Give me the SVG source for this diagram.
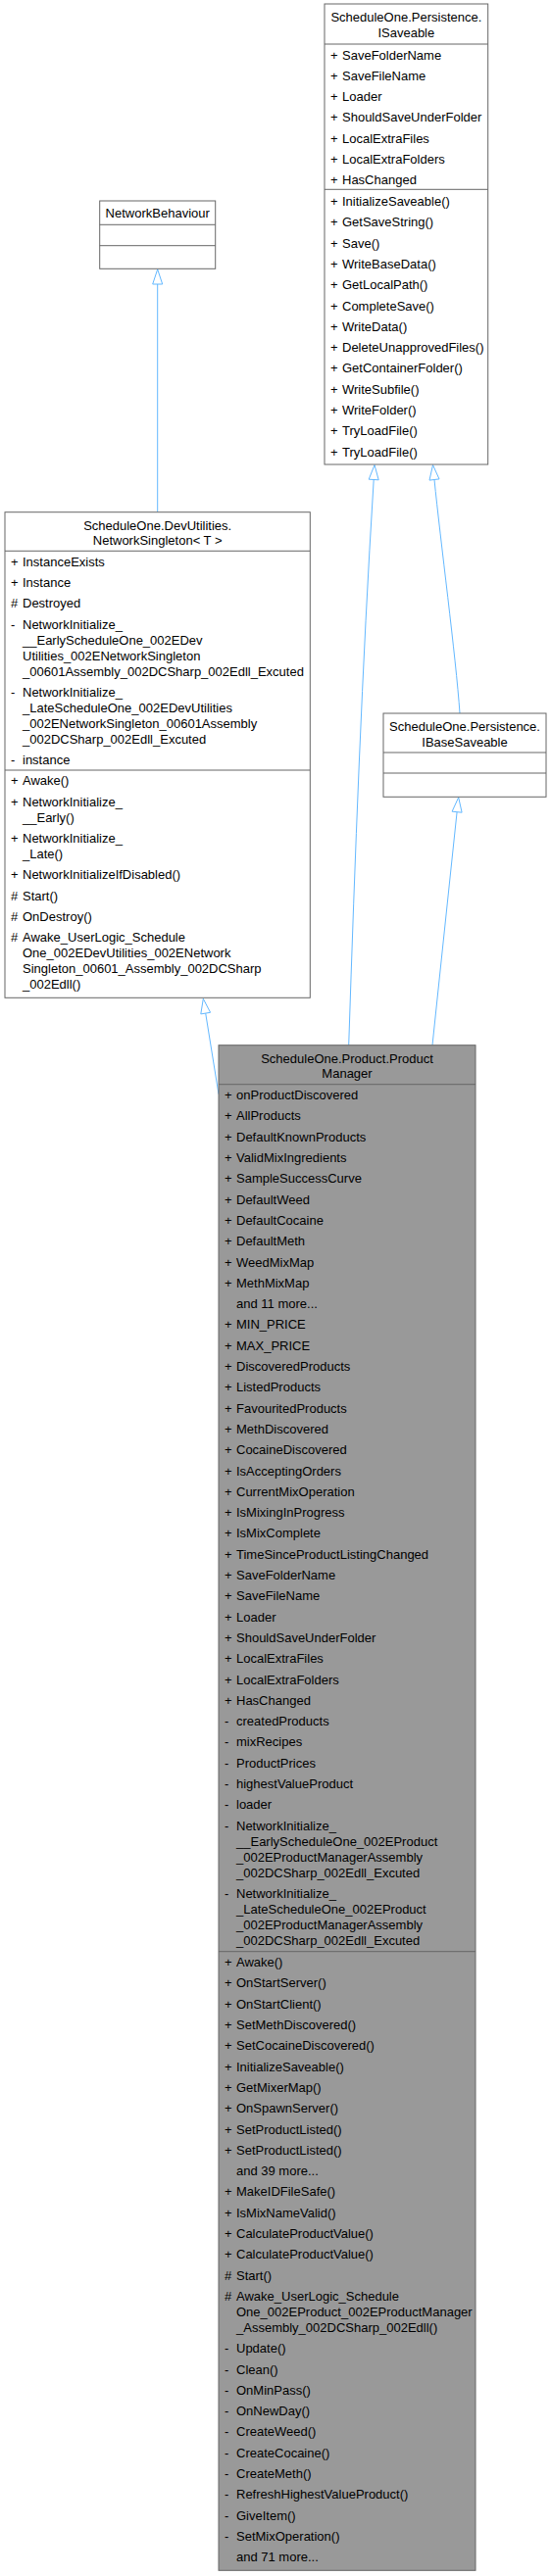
<svg xmlns="http://www.w3.org/2000/svg" width="562" height="2629" viewBox="0 0 562 2629">
<style>
text{font-family:"Liberation Sans",Arial,Helvetica,sans-serif;font-size:13px;fill:#000}
.c{text-anchor:middle}
.box{fill:#fff;stroke:#666;stroke-width:1}
.main{fill:#999;stroke:#666;stroke-width:1}
.sep{stroke:#666;stroke-width:1}
.edge{fill:none;stroke:#63B8FF;stroke-width:1}
.head{fill:#fff;stroke:#63B8FF;stroke-width:1}
</style>
<rect width="562" height="2629" fill="#fff"/>
<g id="connectors">
<path class="edge" d="M160.7,522.7 L160.7,290"/>
<polygon class="head" points="160.7,274.8 165.7,290 155.7,290"/>
<path class="edge" d="M223,1116.7 L209.7,1034.1"/>
<polygon class="head" points="207.3,1019.3 214.6,1033.3 204.8,1034.9"/>
<path class="edge" d="M355.7,1066.7 C362,876 369.3,680 381.2,489.5"/>
<polygon class="head" points="382,474.5 386.2,489.8 376.2,489.2"/>
<path class="edge" d="M469,728 C465,670 449,550 443,489.5"/>
<polygon class="head" points="441.5,474.5 448,488.9 438,490.1"/>
<path class="edge" d="M441,1066.7 L466.1,828.7"/>
<polygon class="head" points="467.7,813.8 471.1,829.2 461.1,828.2"/>
</g>
<g id="ISaveable" transform="translate(331,4)">
<rect class="box" x="0" y="0" width="166.7" height="470"/>
<line class="sep" x1="0" y1="41" x2="166.7" y2="41"/>
<line class="sep" x1="0" y1="189.3" x2="166.7" y2="189.3"/>
<text class="c" x="83.35" y="18">ScheduleOne.Persistence.</text>
<text class="c" x="83.35" y="33.5">ISaveable</text>
<text y="56.5"><tspan x="6">+ </tspan><tspan x="18">SaveFolderName</tspan></text>
<text y="77.8"><tspan x="6">+ </tspan><tspan x="18">SaveFileName</tspan></text>
<text y="99.1"><tspan x="6">+ </tspan><tspan x="18">Loader</tspan></text>
<text y="120.4"><tspan x="6">+ </tspan><tspan x="18">ShouldSaveUnderFolder</tspan></text>
<text y="141.7"><tspan x="6">+ </tspan><tspan x="18">LocalExtraFiles</tspan></text>
<text y="163"><tspan x="6">+ </tspan><tspan x="18">LocalExtraFolders</tspan></text>
<text y="184.3"><tspan x="6">+ </tspan><tspan x="18">HasChanged</tspan></text>
<text y="206"><tspan x="6">+ </tspan><tspan x="18">InitializeSaveable()</tspan></text>
<text y="227.3"><tspan x="6">+ </tspan><tspan x="18">GetSaveString()</tspan></text>
<text y="248.6"><tspan x="6">+ </tspan><tspan x="18">Save()</tspan></text>
<text y="269.9"><tspan x="6">+ </tspan><tspan x="18">WriteBaseData()</tspan></text>
<text y="291.2"><tspan x="6">+ </tspan><tspan x="18">GetLocalPath()</tspan></text>
<text y="312.5"><tspan x="6">+ </tspan><tspan x="18">CompleteSave()</tspan></text>
<text y="333.8"><tspan x="6">+ </tspan><tspan x="18">WriteData()</tspan></text>
<text y="355.1"><tspan x="6">+ </tspan><tspan x="18">DeleteUnapprovedFiles()</tspan></text>
<text y="376.4"><tspan x="6">+ </tspan><tspan x="18">GetContainerFolder()</tspan></text>
<text y="397.7"><tspan x="6">+ </tspan><tspan x="18">WriteSubfile()</tspan></text>
<text y="419"><tspan x="6">+ </tspan><tspan x="18">WriteFolder()</tspan></text>
<text y="440.3"><tspan x="6">+ </tspan><tspan x="18">TryLoadFile()</tspan></text>
<text y="461.6"><tspan x="6">+ </tspan><tspan x="18">TryLoadFile()</tspan></text>
</g>
<g id="NetworkBehaviour" transform="translate(101.7,205)">
<rect class="box" x="0" y="0" width="118" height="69.3"/>
<line class="sep" x1="0" y1="24.3" x2="118" y2="24.3"/>
<line class="sep" x1="0" y1="45.7" x2="118" y2="45.7"/>
<text class="c" x="59" y="17">NetworkBehaviour</text>
</g>
<g id="IBaseSaveable" transform="translate(391,728)">
<rect class="box" x="0" y="0" width="166" height="85.3"/>
<line class="sep" x1="0" y1="40" x2="166" y2="40"/>
<line class="sep" x1="0" y1="61" x2="166" y2="61"/>
<text class="c" x="83" y="18">ScheduleOne.Persistence.</text>
<text class="c" x="83" y="33.5">IBaseSaveable</text>
</g>
<g id="NetworkSingleton" transform="translate(5,522.7)">
<rect class="box" x="0" y="0" width="311.3" height="495.6"/>
<line class="sep" x1="0" y1="39.6" x2="311.3" y2="39.6"/>
<line class="sep" x1="0" y1="263.3" x2="311.3" y2="263.3"/>
<text class="c" x="155.65" y="18">ScheduleOne.DevUtilities.</text>
<text class="c" x="155.65" y="33.5">NetworkSingleton&lt; T &gt;</text>
<text y="55.1"><tspan x="6">+ </tspan><tspan x="18">InstanceExists</tspan></text>
<text y="76.4"><tspan x="6">+ </tspan><tspan x="18">Instance</tspan></text>
<text y="97.7"><tspan x="6"># </tspan><tspan x="18">Destroyed</tspan></text>
<text y="119"><tspan x="6">- </tspan><tspan x="18">NetworkInitialize_</tspan></text>
<text x="18" y="135">__EarlyScheduleOne_002EDev</text>
<text x="18" y="151">Utilities_002ENetworkSingleton</text>
<text x="18" y="167">_00601Assembly_002DCSharp_002Edll_Excuted</text>
<text y="188.3"><tspan x="6">- </tspan><tspan x="18">NetworkInitialize_</tspan></text>
<text x="18" y="204.3">_LateScheduleOne_002EDevUtilities</text>
<text x="18" y="220.3">_002ENetworkSingleton_00601Assembly</text>
<text x="18" y="236.3">_002DCSharp_002Edll_Excuted</text>
<text y="257.6"><tspan x="6">- </tspan><tspan x="18">instance</tspan></text>
<text y="278.8"><tspan x="6">+ </tspan><tspan x="18">Awake()</tspan></text>
<text y="300.1"><tspan x="6">+ </tspan><tspan x="18">NetworkInitialize_</tspan></text>
<text x="18" y="316.1">__Early()</text>
<text y="337.4"><tspan x="6">+ </tspan><tspan x="18">NetworkInitialize_</tspan></text>
<text x="18" y="353.4">_Late()</text>
<text y="374.7"><tspan x="6">+ </tspan><tspan x="18">NetworkInitializeIfDisabled()</tspan></text>
<text y="396"><tspan x="6"># </tspan><tspan x="18">Start()</tspan></text>
<text y="417.3"><tspan x="6"># </tspan><tspan x="18">OnDestroy()</tspan></text>
<text y="438.6"><tspan x="6"># </tspan><tspan x="18">Awake_UserLogic_Schedule</tspan></text>
<text x="18" y="454.6">One_002EDevUtilities_002ENetwork</text>
<text x="18" y="470.6">Singleton_00601_Assembly_002DCSharp</text>
<text x="18" y="486.6">_002Edll()</text>
</g>
<g id="ProductManager" transform="translate(223,1066.7)">
<rect class="main" x="0" y="0" width="262" height="1556.6"/>
<line class="sep" x1="0" y1="40" x2="262" y2="40"/>
<line class="sep" x1="0" y1="925" x2="262" y2="925"/>
<text class="c" x="131" y="18">ScheduleOne.Product.Product</text>
<text class="c" x="131" y="33.5">Manager</text>
<text y="55.5"><tspan x="6">+ </tspan><tspan x="18">onProductDiscovered</tspan></text>
<text y="76.8"><tspan x="6">+ </tspan><tspan x="18">AllProducts</tspan></text>
<text y="98.1"><tspan x="6">+ </tspan><tspan x="18">DefaultKnownProducts</tspan></text>
<text y="119.4"><tspan x="6">+ </tspan><tspan x="18">ValidMixIngredients</tspan></text>
<text y="140.7"><tspan x="6">+ </tspan><tspan x="18">SampleSuccessCurve</tspan></text>
<text y="162"><tspan x="6">+ </tspan><tspan x="18">DefaultWeed</tspan></text>
<text y="183.3"><tspan x="6">+ </tspan><tspan x="18">DefaultCocaine</tspan></text>
<text y="204.6"><tspan x="6">+ </tspan><tspan x="18">DefaultMeth</tspan></text>
<text y="225.9"><tspan x="6">+ </tspan><tspan x="18">WeedMixMap</tspan></text>
<text y="247.2"><tspan x="6">+ </tspan><tspan x="18">MethMixMap</tspan></text>
<text x="18" y="268.5">and 11 more...</text>
<text y="289.8"><tspan x="6">+ </tspan><tspan x="18">MIN_PRICE</tspan></text>
<text y="311.1"><tspan x="6">+ </tspan><tspan x="18">MAX_PRICE</tspan></text>
<text y="332.4"><tspan x="6">+ </tspan><tspan x="18">DiscoveredProducts</tspan></text>
<text y="353.7"><tspan x="6">+ </tspan><tspan x="18">ListedProducts</tspan></text>
<text y="375"><tspan x="6">+ </tspan><tspan x="18">FavouritedProducts</tspan></text>
<text y="396.3"><tspan x="6">+ </tspan><tspan x="18">MethDiscovered</tspan></text>
<text y="417.6"><tspan x="6">+ </tspan><tspan x="18">CocaineDiscovered</tspan></text>
<text y="438.9"><tspan x="6">+ </tspan><tspan x="18">IsAcceptingOrders</tspan></text>
<text y="460.2"><tspan x="6">+ </tspan><tspan x="18">CurrentMixOperation</tspan></text>
<text y="481.5"><tspan x="6">+ </tspan><tspan x="18">IsMixingInProgress</tspan></text>
<text y="502.8"><tspan x="6">+ </tspan><tspan x="18">IsMixComplete</tspan></text>
<text y="524.1"><tspan x="6">+ </tspan><tspan x="18">TimeSinceProductListingChanged</tspan></text>
<text y="545.4"><tspan x="6">+ </tspan><tspan x="18">SaveFolderName</tspan></text>
<text y="566.7"><tspan x="6">+ </tspan><tspan x="18">SaveFileName</tspan></text>
<text y="588"><tspan x="6">+ </tspan><tspan x="18">Loader</tspan></text>
<text y="609.3"><tspan x="6">+ </tspan><tspan x="18">ShouldSaveUnderFolder</tspan></text>
<text y="630.6"><tspan x="6">+ </tspan><tspan x="18">LocalExtraFiles</tspan></text>
<text y="651.9"><tspan x="6">+ </tspan><tspan x="18">LocalExtraFolders</tspan></text>
<text y="673.2"><tspan x="6">+ </tspan><tspan x="18">HasChanged</tspan></text>
<text y="694.5"><tspan x="6">- </tspan><tspan x="18">createdProducts</tspan></text>
<text y="715.8"><tspan x="6">- </tspan><tspan x="18">mixRecipes</tspan></text>
<text y="737.1"><tspan x="6">- </tspan><tspan x="18">ProductPrices</tspan></text>
<text y="758.4"><tspan x="6">- </tspan><tspan x="18">highestValueProduct</tspan></text>
<text y="779.7"><tspan x="6">- </tspan><tspan x="18">loader</tspan></text>
<text y="801"><tspan x="6">- </tspan><tspan x="18">NetworkInitialize_</tspan></text>
<text x="18" y="817">__EarlyScheduleOne_002EProduct</text>
<text x="18" y="833">_002EProductManagerAssembly</text>
<text x="18" y="849">_002DCSharp_002Edll_Excuted</text>
<text y="870.3"><tspan x="6">- </tspan><tspan x="18">NetworkInitialize_</tspan></text>
<text x="18" y="886.3">_LateScheduleOne_002EProduct</text>
<text x="18" y="902.3">_002EProductManagerAssembly</text>
<text x="18" y="918.3">_002DCSharp_002Edll_Excuted</text>
<text y="940.5"><tspan x="6">+ </tspan><tspan x="18">Awake()</tspan></text>
<text y="961.8"><tspan x="6">+ </tspan><tspan x="18">OnStartServer()</tspan></text>
<text y="983.1"><tspan x="6">+ </tspan><tspan x="18">OnStartClient()</tspan></text>
<text y="1004.4"><tspan x="6">+ </tspan><tspan x="18">SetMethDiscovered()</tspan></text>
<text y="1025.7"><tspan x="6">+ </tspan><tspan x="18">SetCocaineDiscovered()</tspan></text>
<text y="1047"><tspan x="6">+ </tspan><tspan x="18">InitializeSaveable()</tspan></text>
<text y="1068.3"><tspan x="6">+ </tspan><tspan x="18">GetMixerMap()</tspan></text>
<text y="1089.6"><tspan x="6">+ </tspan><tspan x="18">OnSpawnServer()</tspan></text>
<text y="1110.9"><tspan x="6">+ </tspan><tspan x="18">SetProductListed()</tspan></text>
<text y="1132.2"><tspan x="6">+ </tspan><tspan x="18">SetProductListed()</tspan></text>
<text x="18" y="1153.5">and 39 more...</text>
<text y="1174.8"><tspan x="6">+ </tspan><tspan x="18">MakeIDFileSafe()</tspan></text>
<text y="1196.1"><tspan x="6">+ </tspan><tspan x="18">IsMixNameValid()</tspan></text>
<text y="1217.4"><tspan x="6">+ </tspan><tspan x="18">CalculateProductValue()</tspan></text>
<text y="1238.7"><tspan x="6">+ </tspan><tspan x="18">CalculateProductValue()</tspan></text>
<text y="1260"><tspan x="6"># </tspan><tspan x="18">Start()</tspan></text>
<text y="1281.3"><tspan x="6"># </tspan><tspan x="18">Awake_UserLogic_Schedule</tspan></text>
<text x="18" y="1297.3">One_002EProduct_002EProductManager</text>
<text x="18" y="1313.3">_Assembly_002DCSharp_002Edll()</text>
<text y="1334.6"><tspan x="6">- </tspan><tspan x="18">Update()</tspan></text>
<text y="1355.9"><tspan x="6">- </tspan><tspan x="18">Clean()</tspan></text>
<text y="1377.2"><tspan x="6">- </tspan><tspan x="18">OnMinPass()</tspan></text>
<text y="1398.5"><tspan x="6">- </tspan><tspan x="18">OnNewDay()</tspan></text>
<text y="1419.8"><tspan x="6">- </tspan><tspan x="18">CreateWeed()</tspan></text>
<text y="1441.1"><tspan x="6">- </tspan><tspan x="18">CreateCocaine()</tspan></text>
<text y="1462.4"><tspan x="6">- </tspan><tspan x="18">CreateMeth()</tspan></text>
<text y="1483.7"><tspan x="6">- </tspan><tspan x="18">RefreshHighestValueProduct()</tspan></text>
<text y="1505"><tspan x="6">- </tspan><tspan x="18">GiveItem()</tspan></text>
<text y="1526.3"><tspan x="6">- </tspan><tspan x="18">SetMixOperation()</tspan></text>
<text x="18" y="1547.6">and 71 more...</text>
</g>
</svg>
